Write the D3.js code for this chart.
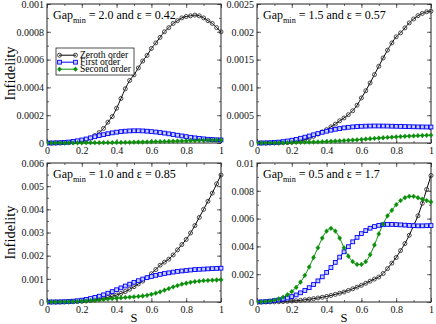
<!DOCTYPE html>
<html><head><meta charset="utf-8">
<script src="https://cdn.jsdelivr.net/npm/d3@7"></script>
<style>body{margin:0;background:#fff}svg{display:block}</style>
</head><body><svg id="c" width="436" height="324"></svg>
<script>
const sValues = d3.range(41).map(i => i / 40); // s grid 0,0.025,...,1
const seriesNames = ["Zeroth order", "First order", "Second order"];
const panelGap = ["2.0", "1.5", "1.0", "0.5"];
const panelEps = ["0.42", "0.57", "0.85", "1.7"];
const yMax = [0.001, 0.0025, 0.006, 0.01];
const yTickVals = [
  [0, 0.0002, 0.0004, 0.0006, 0.0008, 0.001],
  [0, 0.0005, 0.001, 0.0015, 0.002, 0.0025],
  [0, 0.001, 0.002, 0.003, 0.004, 0.005, 0.006],
  [0, 0.002, 0.004, 0.006, 0.008, 0.01]
];
const yTickLabels = [
  ["0", "0.0002", "0.0004", "0.0006", "0.0008", "0.001"],
  ["0", "0.0005", "0.001", "0.0015", "0.002", "0.0025"],
  ["0", "0.001", "0.002", "0.003", "0.004", "0.005", "0.006"],
  ["0", "0.002", "0.004", "0.006", "0.008", "0.01"]
];
const yMinorStep = [0.0001, 0.00025, 0.0005, 0.001];
const xTickVals = [0, 0.2, 0.4, 0.6, 0.8, 1];
const xTickLabels = ["0", "0.2", "0.4", "0.6", "0.8", "1"];

// Panel 1: Gap 2.0
const zeroth1 = [0,0,0,0.000001,0.000002,0.000003,0.000005,0.000009,0.000015,0.000024,0.000036,0.000054,0.000075,0.000105,0.00015,0.00019,0.00025,0.00032,0.00039,0.00045,0.00049,0.00054,0.00059,0.00063,0.00068,0.00072,0.00076,0.0008,0.00083,0.00086,0.00088,0.0009,0.00091,0.000915,0.00092,0.000915,0.0009,0.00088,0.00086,0.00083,0.0008];
const first1 = [0,0,0.000001,0.000002,0.000004,0.000007,0.000011,0.000016,0.000022,0.000029,0.000037,0.000045,0.000053,0.00006,0.000067,0.000073,0.000078,0.000082,0.000085,0.000087,0.000088,0.000088,0.000087,0.000085,0.000082,0.000079,0.000075,0.000071,0.000066,0.000061,0.000056,0.000051,0.000046,0.000041,0.000037,0.000033,0.00003,0.000027,0.000025,0.000023,0.000022];
const second1 = [0,0,0,0,0,0.000001,0.000001,0.000001,0.000001,0.000002,0.000002,0.000002,0.000002,0.000003,0.000003,0.000003,0.000004,0.000004,0.000005,0.000005,0.000006,0.000007,0.000007,0.000008,0.000009,0.00001,0.00001,0.000011,0.000012,0.000013,0.000014,0.000015,0.000016,0.000017,0.000017,0.000018,0.000019,0.00002,0.00002,0.000021,0.000021];
// Panel 2: Gap 1.5
const zeroth2 = [0,0,0,0,0.000001,0.000002,0.000004,0.000008,0.000015,0.000025,0.00004,0.00006,0.00009,0.00012,0.00016,0.0002,0.00024,0.00029,0.00034,0.0004,0.00045,0.00051,0.00058,0.00068,0.00081,0.00094,0.00108,0.00123,0.00138,0.00153,0.00167,0.0018,0.00191,0.00198,0.00207,0.00216,0.00223,0.00229,0.00233,0.00236,0.00237];
const first2 = [0,0,0.000002,0.000005,0.00001,0.000016,0.000025,0.000036,0.00005,0.000066,0.000085,0.000105,0.000126,0.000148,0.00017,0.000192,0.000212,0.00023,0.000246,0.00026,0.000272,0.000282,0.00029,0.000296,0.0003,0.000303,0.000305,0.000306,0.000306,0.000305,0.000304,0.000302,0.0003,0.000298,0.000296,0.000294,0.000292,0.00029,0.000289,0.000288,0.000287];
const second2 = [0,0,0,0.000001,0.000002,0.000003,0.000004,0.000006,0.000008,0.00001,0.000012,0.000014,0.000016,0.000018,0.00002,0.000023,0.000026,0.00003,0.000034,0.000038,0.000043,0.000048,0.000053,0.000058,0.000064,0.00007,0.000076,0.000082,0.000088,0.000094,0.0001,0.000105,0.00011,0.000115,0.00012,0.000124,0.000128,0.000132,0.000135,0.000138,0.00014];
// Panel 3: Gap 1.0
const zeroth3 = [0,0,0,0,0.000002,0.000005,0.00001,0.000018,0.00003,0.000045,0.000065,0.00009,0.00012,0.000155,0.0002,0.00025,0.0003,0.00037,0.00045,0.00055,0.00066,0.00078,0.0009,0.00105,0.00122,0.0014,0.00159,0.00172,0.00185,0.00203,0.00225,0.00248,0.0027,0.00298,0.0033,0.00365,0.004,0.00435,0.0047,0.0051,0.00548];
const first3 = [0,0,0.000002,0.000006,0.000012,0.000022,0.000036,0.000055,0.00008,0.00011,0.00015,0.0002,0.00025,0.00031,0.00038,0.00045,0.00053,0.00061,0.00069,0.00077,0.00085,0.00092,0.00099,0.00105,0.0011,0.00115,0.00119,0.00123,0.00126,0.00129,0.00132,0.00134,0.00136,0.00138,0.0014,0.00141,0.00142,0.00143,0.00144,0.00145,0.00146];
const second3 = [0,0,0.000001,0.000003,0.000006,0.00001,0.000016,0.000024,0.000034,0.000046,0.00006,0.000076,0.000093,0.00011,0.000128,0.000146,0.000164,0.00018,0.000196,0.00021,0.000225,0.00024,0.00026,0.00029,0.00033,0.00038,0.00044,0.00051,0.00058,0.00065,0.00071,0.00077,0.00081,0.00085,0.00088,0.0009,0.00092,0.00093,0.00094,0.00095,0.00096];
// Panel 4: Gap 0.5
const zeroth4 = [0,0,0,0.000005,0.00001,0.00002,0.00003,0.00005,0.00007,0.00009,0.00012,0.00016,0.0002,0.00024,0.00029,0.00034,0.0004,0.00047,0.00055,0.00063,0.00072,0.00083,0.00095,0.00107,0.0012,0.00135,0.0015,0.00165,0.0018,0.00205,0.0024,0.0028,0.0032,0.0037,0.0042,0.0048,0.0055,0.0062,0.0071,0.0081,0.0091];
const first4 = [0,0.00001,0.00003,0.00006,0.0001,0.00015,0.00021,0.00029,0.00039,0.00051,0.00066,0.00083,0.00103,0.00126,0.00152,0.00181,0.00213,0.00248,0.00285,0.00323,0.00361,0.00398,0.00433,0.00465,0.00492,0.00514,0.00531,0.00543,0.00551,0.00556,0.00558,0.00558,0.00557,0.00555,0.00553,0.00551,0.00549,0.00548,0.00548,0.00549,0.0055];
const second4 = [0,0.00001,0.00003,0.00007,0.00013,0.00022,0.00035,0.00052,0.00075,0.00105,0.00143,0.00192,0.00252,0.0032,0.0039,0.0046,0.0051,0.0053,0.0051,0.0046,0.0039,0.0033,0.0029,0.0027,0.0027,0.0029,0.0034,0.0041,0.0049,0.0056,0.0062,0.0066,0.007,0.0073,0.0075,0.0076,0.0076,0.0075,0.0074,0.0073,0.0072];

const panelSeries = [[zeroth1, first1, second1],[zeroth2, first2, second2],[zeroth3, first3, second3],[zeroth4, first4, second4]];
const colors = ["#000000", "#0000ff", "#0a8f0a"];
const FONT = "Liberation Serif";

const svg = d3.select("#c");
const boxes = [
  {x0:47, x1:221, y0:4, y1:143},
  {x0:257, x1:431, y0:4, y1:143},
  {x0:47, x1:221, y0:163, y1:302},
  {x0:257, x1:431, y0:163, y1:302}
];

function marker(g, type, color, x, y) {
  if (type === 0) {
    g.append("circle").attr("cx", x).attr("cy", y).attr("r", 2)
      .attr("fill", "none").attr("stroke", "#333").attr("stroke-width", 0.9);
  } else if (type === 1) {
    g.append("rect").attr("x", x - 1.9).attr("y", y - 1.9).attr("width", 3.8).attr("height", 3.8)
      .attr("fill", "#c8d0ff").attr("stroke", color).attr("stroke-width", 0.9);
  } else {
    g.append("path").attr("d", `M${x},${y-2.4}L${x+2.1},${y}L${x},${y+2.4}L${x-2.1},${y}Z`)
      .attr("fill", color).attr("stroke", color).attr("stroke-width", 0.4);
  }
}

boxes.forEach((b, p) => {
  const g = svg.append("g");
  const x = d3.scaleLinear().domain([0, 1]).range([b.x0, b.x1]);
  const y = d3.scaleLinear().domain([0, yMax[p]]).range([b.y1, b.y0]);
  const clipId = "clip" + p;
  svg.append("clipPath").attr("id", clipId).append("rect")
    .attr("x", b.x0).attr("y", b.y0 - 3).attr("width", b.x1 - b.x0 + 3).attr("height", b.y1 - b.y0 + 6);

  const xMinor = d3.range(0, 1.0001, 0.1);
  const yMinor = d3.range(0, yMax[p] * 1.0001, yMinorStep[p]);
  const axB = d3.axisBottom(x).tickValues(xTickVals).tickFormat((d,i)=>xTickLabels[i]).tickSize(-4).tickPadding(4);
  const axT = d3.axisTop(x).tickValues(xTickVals).tickFormat("").tickSize(-4);
  const axL = d3.axisLeft(y).tickValues(yTickVals[p]).tickFormat((d,i)=>yTickLabels[p][i]).tickSize(-4).tickPadding(3);
  const axR = d3.axisRight(y).tickValues(yTickVals[p]).tickFormat("").tickSize(-4);
  const mB = d3.axisBottom(x).tickValues(xMinor).tickFormat("").tickSize(-2);
  const mT = d3.axisTop(x).tickValues(xMinor).tickFormat("").tickSize(-2);
  const mL = d3.axisLeft(y).tickValues(yMinor).tickFormat("").tickSize(-2);
  const mR = d3.axisRight(y).tickValues(yMinor).tickFormat("").tickSize(-2);
  [[axB,"b"],[mB,"b"],[axT,"t"],[mT,"t"],[axL,"l"],[mL,"l"],[axR,"r"],[mR,"r"]].forEach(([ax, side]) => {
    const t = side==="b" ? `translate(0,${b.y1})` : side==="t" ? `translate(0,${b.y0})` : side==="l" ? `translate(${b.x0},0)` : `translate(${b.x1},0)`;
    const a = g.append("g").attr("transform", t).call(ax);
    a.attr("font-family", FONT);
    a.select(".domain").remove();
    a.selectAll("line").attr("stroke", "#444").attr("stroke-width", 0.8);
    a.selectAll("text").attr("font-size", 10).attr("fill", "#111");
  });
  g.append("rect").attr("x", b.x0).attr("y", b.y0).attr("width", b.x1 - b.x0).attr("height", b.y1 - b.y0)
    .attr("fill", "none").attr("stroke", "#222").attr("stroke-width", 1);

  const data = g.append("g").attr("clip-path", `url(#${clipId})`);
  panelSeries[p].forEach((vals, k) => {
    const pts = sValues.map((s, i) => [x(s), y(vals[i])]);
    data.append("path").attr("d", d3.line().curve(d3.curveMonotoneX)(pts))
      .attr("fill", "none").attr("stroke", colors[k]).attr("stroke-width", 1);
  });
  panelSeries[p].forEach((vals, k) => {
    sValues.forEach((s, i) => marker(data, k, colors[k], x(s), y(vals[i])));
  });

  const tt = g.append("text").attr("x", b.x0 + 6).attr("y", b.y0 + 15).attr("font-size", 12).attr("fill", "#000");
  tt.append("tspan").text("Gap");
  tt.append("tspan").attr("font-size", 8.2).attr("dy", 3.5).text("min");
  tt.append("tspan").attr("dy", -3.5).text(` = ${panelGap[p]} and ε = ${panelEps[p]}`);
});

[0, 2].forEach(p => {
  const b = boxes[p];
  svg.append("text").attr("transform", `translate(15,${(b.y0 + b.y1) / 2}) rotate(-90)`)
    .attr("text-anchor", "middle").attr("font-size", 14.5).text("Infidelity");
});
[2, 3].forEach(p => {
  const b = boxes[p];
  svg.append("text").attr("x", (b.x0 + b.x1) / 2).attr("y", 322)
    .attr("text-anchor", "middle").attr("font-size", 12.5).text("S");
});

const lg = svg.append("g");
lg.append("rect").attr("x", 56).attr("y", 48).attr("width", 78).attr("height", 27)
  .attr("fill", "#fff").attr("stroke", "#222").attr("stroke-width", 0.8);
seriesNames.forEach((n, k) => {
  const yy = 55.2 + k * 7;
  lg.append("line").attr("x1", 59).attr("x2", 76).attr("y1", yy).attr("y2", yy).attr("stroke", colors[k]).attr("stroke-width", 1);
  marker(lg, k, colors[k], 59.5, yy);
  marker(lg, k, colors[k], 75.5, yy);
  lg.append("text").attr("x", 80).attr("y", yy + 3.2).attr("font-size", 9.6).text(n);
});

svg.selectAll("text").attr("font-family", FONT);
</script></body></html>
